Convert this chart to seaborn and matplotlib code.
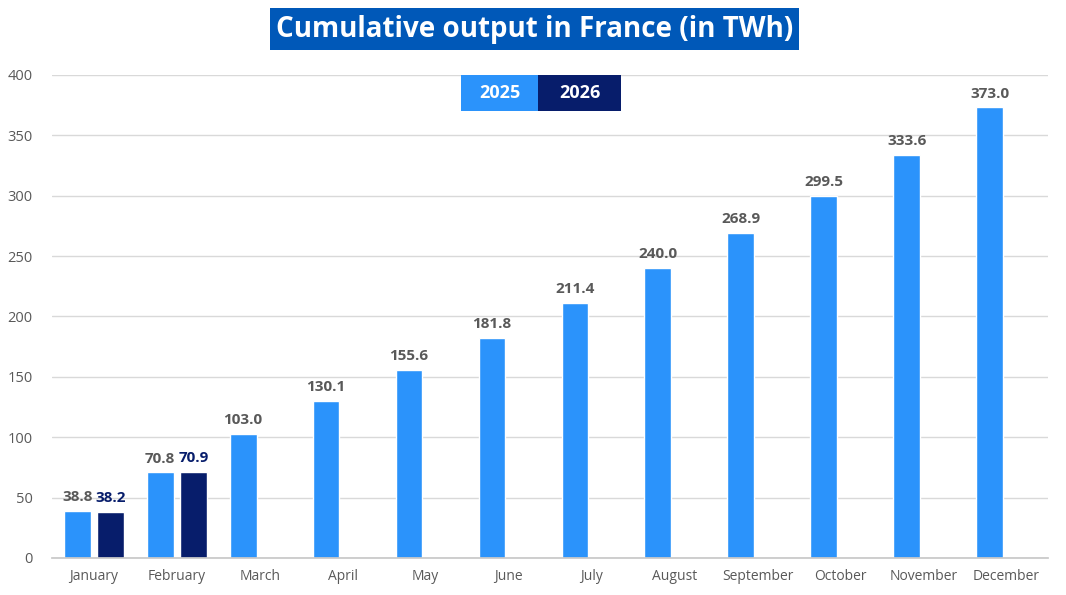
import pandas as pd
import numpy as np
import seaborn as sns
from matplotlib import pyplot as plt
from matplotlib.patches import Rectangle

months = ['January', 'February', 'March', 'April', 'May', 'June', 'July',
          'August', 'September', 'October', 'November', 'December']
output_2025 = [38.8, 70.8, 103.0, 130.1, 155.6, 181.8, 211.4, 240.0,
               268.9, 299.5, 333.6, 373.0]
output_2026 = [38.2, 70.9] + [np.nan] * 10
years = ['2025', '2026']
yticks = [0, 50, 100, 150, 200, 250, 300, 350, 400]

light_blue = '#2b93fb'
navy = '#071d6b'
grey = '#595959'

df = pd.DataFrame({
    'month': months * 2,
    'year': [years[0]] * 12 + [years[1]] * 12,
    'value': output_2025 + output_2026,
})

sns.set_theme(style='white')
plt.rcParams['font.family'] = ['Open Sans', 'DejaVu Sans']

fig = plt.figure(figsize=(10.66, 5.95), dpi=100)
ax = fig.add_axes([0.049, 0.0622, 0.934, 0.812])

sns.barplot(data=df, x='month', y='value', hue='year', order=months,
            hue_order=years, palette=[light_blue, navy], width=0.8, gap=0.19,
            legend=False, ax=ax, saturation=1)

ax.set_ylim(0, 400)
ax.set_xlim(-0.5, 11.5)
ax.set_yticks(yticks)
ax.set_yticklabels([str(t) for t in yticks], color=grey, fontsize=10.5)
ax.set_xticks(range(12))
ax.set_xticklabels(months, color=grey, fontsize=10)
ax.set_xticks(np.arange(-0.5, 12, 1), minor=True)
ax.tick_params(axis='x', which='major', length=0, pad=8)
ax.tick_params(axis='x', which='minor', length=5, color='#c8c8c8', width=1)
ax.tick_params(axis='y', length=0, pad=14)
ax.set_xlabel('')
ax.set_ylabel('')
ax.grid(axis='y', color='#d9d9d9', linewidth=1)
ax.set_axisbelow(True)
for s in ['top', 'right', 'left']:
    ax.spines[s].set_visible(False)
ax.spines['bottom'].set_color('#c8c8c8')

# data labels
for container, col in zip(ax.containers, [grey, navy]):
    labels = ['' if np.isnan(v) else f'{v:.1f}' for v in container.datavalues]
    ax.bar_label(container, labels=labels, padding=5, color=col,
                 fontsize=11, fontweight='bold')

# title box
fig.patches.append(Rectangle((0.2533, 0.916), 0.4962, 0.0706,
                             transform=fig.transFigure, fc='#0058b8', ec='none'))
fig.text(0.5014, 0.951, 'Cumulative output in France (in TWh)', ha='center',
         va='center', color='white', fontsize=20, fontweight='bold')

# legend boxes
for (x0, w), name, col in zip([(0.4325, 0.0722), (0.5047, 0.0779)], years,
                              [light_blue, navy]):
    fig.patches.append(Rectangle((x0, 0.8134), w, 0.0606,
                                 transform=fig.transFigure, fc=col, ec='none',
                                 zorder=5))
    fig.text(x0 + w / 2, 0.8437, name, ha='center', va='center',
             color='white', fontsize=13, fontweight='bold', zorder=6)

fig.savefig('out.png', dpi=100)
